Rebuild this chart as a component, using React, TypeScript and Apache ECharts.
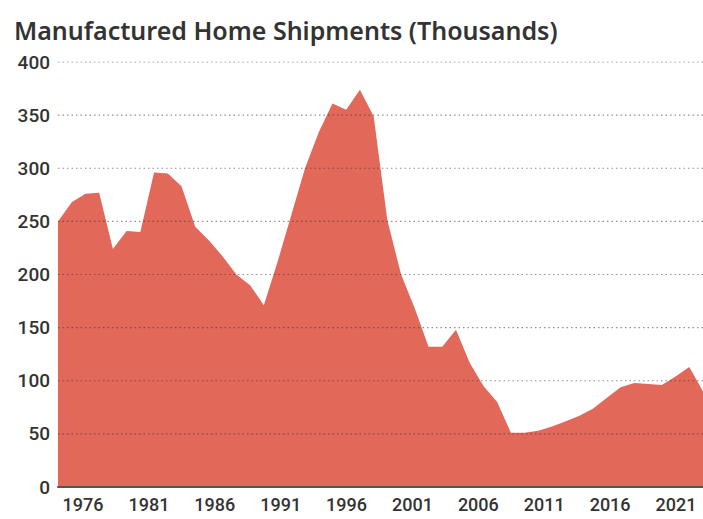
import React, { useEffect, useRef } from "react";
import * as echarts from "echarts";

const titleText = "Manufactured Home Shipments (Thousands)";

const years = [
  1976, 1977, 1978, 1979, 1980, 1981, 1982, 1983, 1984, 1985,
  1986, 1987, 1988, 1989, 1990, 1991, 1992, 1993, 1994, 1995,
  1996, 1997, 1998, 1999, 2000, 2001, 2002, 2003, 2004, 2005,
  2006, 2007, 2008, 2009, 2010, 2011, 2012, 2013, 2014, 2015,
  2016, 2017, 2018, 2019, 2020, 2021, 2022, 2023,
];

const shipments = [
  250, 268, 276, 277, 224, 241, 240, 296, 295, 283,
  245, 232, 217, 200, 190, 171, 212, 256, 300, 334,
  361, 355, 374, 349, 251, 200, 168, 132, 132, 148,
  117, 95, 80, 51, 51, 53, 57, 62, 67, 74,
  84, 94, 98, 97, 96, 104, 113, 90,
];

const xTickLabels = [1976, 1981, 1986, 1991, 1996, 2001, 2006, 2011, 2016, 2021];
const yTicks = [0, 50, 100, 150, 200, 250, 300, 350, 400];

const FONT = "Roboto, 'Noto Sans', sans-serif";

export default function App() {
  const ref = useRef<HTMLDivElement>(null);

  useEffect(() => {
    if (!ref.current) return;
    const chart = echarts.init(ref.current, null, { renderer: "svg" });
    const data = years.map((y, i) => [y, shipments[i]]);
    const firstYear = years[0];
    const lastYear = years[years.length - 1];
    // dotted gridlines drawn over the area (one broken line through each tick)
    const gridData: any[] = [];
    yTicks.slice(1).forEach((v) => {
      gridData.push([firstYear, v], [lastYear, v], "-");
    });
    chart.setOption({
      animation: false,
      backgroundColor: "#ffffff",
      title: {
        text: titleText,
        left: 9,
        top: 12,
        textStyle: {
          fontFamily: "'Noto Sans', sans-serif",
          fontSize: 25,
          fontWeight: 600,
          color: "#333333",
        },
      },
      grid: { left: 58, right: 0, top: 62, bottom: 32, containLabel: false },
      xAxis: [
        {
          type: "value",
          min: firstYear,
          max: lastYear,
          show: false,
        },
        {
          type: "value",
          min: 1974.1,
          max: 2023.05,
          position: "bottom",
          z: 20,
          axisLine: { show: true, onZero: false, lineStyle: { color: "#555555", width: 2 } },
          axisTick: { show: false },
          splitLine: { show: false },
          axisLabel: {
            customValues: xTickLabels,
            formatter: (v: number) => String(Math.round(v)),
            color: "#333333",
            fontFamily: FONT,
            fontSize: 18,
            fontWeight: 500,
            margin: 8,
            showMinLabel: true,
            showMaxLabel: true,
          },
        },
      ],
      yAxis: {
        type: "value",
        min: yTicks[0],
        max: yTicks[yTicks.length - 1],
        interval: 50,
        axisLine: { show: false },
        axisTick: { show: false },
        axisLabel: {
          color: "#333333",
          fontFamily: FONT,
          fontSize: 19,
          fontWeight: 500,
          margin: 8,
        },
        splitLine: { show: false },
      },
      series: [
        {
          name: "Shipments",
          type: "line",
          xAxisIndex: 0,
          data,
          symbol: "none",
          lineStyle: { width: 0, color: "#e2685a" },
          areaStyle: { color: "#e2685a", opacity: 1 },
        },
        {
          name: "gridlines",
          type: "line",
          xAxisIndex: 0,
          data: gridData,
          symbol: "none",
          silent: true,
          connectNulls: false,
          lineStyle: { color: "rgba(60,50,50,0.55)", width: 1.2, type: [1.5, 3] },
        },
      ],
    });
    return () => chart.dispose();
  }, []);

  return (
    <div
      ref={ref}
      style={{ position: "absolute", left: 0, top: 0, width: 703, height: 519 }}
    />
  );
}
